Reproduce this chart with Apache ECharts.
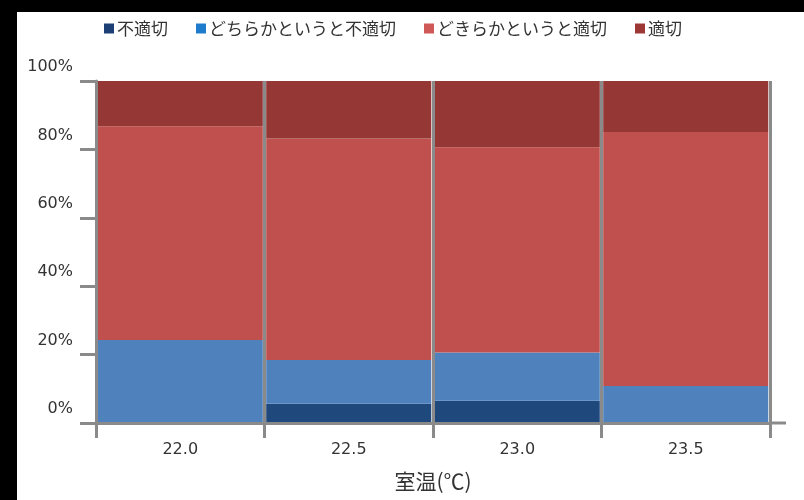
<!DOCTYPE html>
<html>
<head>
<meta charset="utf-8">
<style>
  html, body { margin: 0; padding: 0; background: #ffffff; }
  #chart { width: 804px; height: 500px; }
</style>
<script src="https://cdn.jsdelivr.net/npm/echarts@6/dist/echarts.min.js"></script>
</head>
<body>
<div id="chart"></div>
<script>
// Room temperature categories (°C)
const categories = ['22.0', '22.5', '23.0', '23.5'];

// Share of answers per temperature (%), stacked bottom to top
const inappropriate         = [0.0, 5.6, 6.5, 0.0];     // 不適切
const ratherInappropriate   = [24.3, 12.8, 14.1, 10.8]; // どちらかというと不適切
const ratherAppropriate     = [62.5, 64.8, 60.0, 74.3]; // どきらかというと適切
const appropriate           = [13.2, 16.8, 19.4, 14.9]; // 適切

const seriesNames = ['不適切', 'どちらかというと不適切', 'どきらかというと適切', '適切'];
const seriesValues = [inappropriate, ratherInappropriate, ratherAppropriate, appropriate];
const barColors = ['#1f497d', '#4f81bd', '#c0504d', '#953735'];
const legendColors = ['#1c3f75', '#1f7ccc', '#cf5957', '#9e3836'];

const yTicks = [0, 20, 40, 60, 80, 100];

const CJK_FONT = '"Noto Sans CJK JP", "Noto Sans", sans-serif';
const NUM_FONT = '"DejaVu Sans", "Noto Sans", sans-serif';
const AXIS_GRAY = '#8a8a8a';

// dark frame strips along the top and left edges
const frameStrips = [
  { type: 'rect', left: 0, top: 0, shape: { width: 804, height: 12 }, style: { fill: '#000' }, z: 100 },
  { type: 'rect', left: 0, top: 0, shape: { width: 17, height: 500 }, style: { fill: '#000' }, z: 100 }
];

const chart = echarts.init(document.getElementById('chart'), null, { renderer: 'canvas' });

const option = {
  backgroundColor: '#ffffff',
  animation: false,
  textStyle: { fontFamily: CJK_FONT },
  graphic: frameStrips,
  legend: {
    data: seriesNames.map((n, i) => ({ name: n, itemStyle: { color: legendColors[i] } })),
    left: 99,
    top: 15,
    icon: 'rect',
    itemWidth: 10,
    itemHeight: 10,
    itemGap: 28,
    textStyle: { fontFamily: CJK_FONT, fontSize: 17, color: '#333', padding: [0, 0, 0, -2] }
  },
  grid: { left: 96, right: 34, top: 81, bottom: 77, containLabel: false, outerBoundsMode: 'none' },
  xAxis: {
    type: 'category',
    data: categories,
    name: '室温(℃)',
    nameLocation: 'middle',
    nameGap: 48,
    nameTextStyle: { fontFamily: CJK_FONT, fontSize: 21, color: '#333' },
    axisLine: { show: true, lineStyle: { color: AXIS_GRAY, width: 3 } },
    axisTick: { show: true, length: 15, lineStyle: { color: AXIS_GRAY, width: 3 } },
    axisLabel: { margin: 19, fontFamily: NUM_FONT, fontSize: 16, color: '#333' },
    splitLine: { show: true, lineStyle: { color: AXIS_GRAY, width: 3 } },
    z: 10
  },
  yAxis: {
    type: 'value',
    min: yTicks[0],
    max: yTicks[yTicks.length - 1],
    interval: 20,
    axisLine: { show: true, lineStyle: { color: AXIS_GRAY, width: 3 } },
    axisTick: { show: true, length: 16, lineStyle: { color: AXIS_GRAY, width: 3 } },
    axisLabel: {
      formatter: '{value}%',
      margin: 23,
      fontFamily: NUM_FONT,
      fontSize: 16,
      color: '#333',
      verticalAlign: 'bottom',
      lineHeight: 28
    },
    splitLine: { show: false },
    z: 10
  },
  series: seriesNames.map((name, i) => ({
    name: name,
    type: 'bar',
    stack: 'total',
    barCategoryGap: '2%',
    data: seriesValues[i],
    itemStyle: { color: barColors[i] },
    emphasis: { disabled: true }
  }))
};

chart.setOption(option);

// Short stub continuing the base line past the last category boundary
const y0 = chart.convertToPixel({ yAxisIndex: 0 }, 0);
const xFirst = chart.convertToPixel({ xAxisIndex: 0 }, categories[0]);
const xLast = chart.convertToPixel({ xAxisIndex: 0 }, categories[categories.length - 1]);
const band = (xLast - xFirst) / (categories.length - 1);
const xEnd = xLast + band / 2;
chart.setOption({
  graphic: frameStrips.concat([
    {
      type: 'line',
      shape: { x1: xEnd, y1: y0, x2: xEnd + 16, y2: y0 },
      style: { stroke: AXIS_GRAY, lineWidth: 3 },
      z: 50
    }
  ])
});
</script>
</body>
</html>
